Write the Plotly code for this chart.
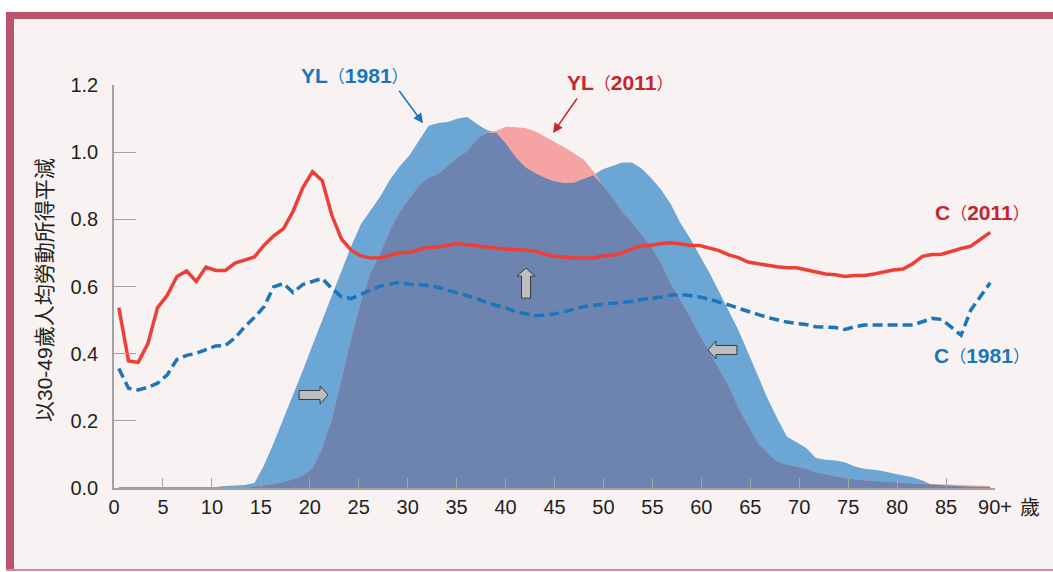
import plotly.graph_objects as go

# ---------------- data ----------------
ages = list(range(91))  # 0 .. 90+
tick_labels = ["0", "5", "10", "15", "20", "25", "30", "35", "40", "45",
               "50", "55", "60", "65", "70", "75", "80", "85", "90+"]
tick_nums = [0, 5, 10, 15, 20, 25, 30, 35, 40, 45, 50, 55, 60, 65, 70, 75, 80, 85, 90]
y_ticks = [0.0, 0.2, 0.4, 0.6, 0.8, 1.0, 1.2]

yl_1981 = [0.003] * 11 + [
    0.006, 0.007, 0.009, 0.015, 0.068, 0.135, 0.205, 0.277, 0.350, 0.425,
    0.500, 0.572, 0.647, 0.720, 0.785, 0.826, 0.868, 0.918, 0.957, 0.990,
    1.035, 1.079, 1.087, 1.090, 1.100, 1.105, 1.084, 1.066, 1.058, 1.025,
    0.985, 0.955, 0.937, 0.924, 0.913, 0.908, 0.909, 0.920, 0.931, 0.949,
    0.960, 0.969, 0.969, 0.951, 0.922, 0.889, 0.846, 0.789, 0.744, 0.694,
    0.641, 0.584, 0.527, 0.470, 0.403, 0.334, 0.267, 0.208, 0.153, 0.136,
    0.119, 0.089, 0.084, 0.082, 0.077, 0.064, 0.057, 0.054, 0.050, 0.043,
    0.037, 0.032, 0.022, 0.010, 0.007, 0.006, 0.005, 0.004, 0.003, 0.003]

yl_2011 = [0.0] * 14 + [
    0.004, 0.007, 0.012, 0.018, 0.026, 0.037, 0.058, 0.119, 0.203, 0.322,
    0.446, 0.554, 0.641, 0.698, 0.767, 0.822, 0.861, 0.901, 0.924, 0.936,
    0.960, 0.985, 1.003, 1.040, 1.057, 1.064, 1.076, 1.074, 1.072, 1.062,
    1.047, 1.030, 1.015, 0.997, 0.978, 0.944, 0.901, 0.864, 0.822, 0.792,
    0.753, 0.718, 0.670, 0.609, 0.559, 0.510, 0.455, 0.406, 0.352, 0.303,
    0.238, 0.188, 0.134, 0.104, 0.079, 0.069, 0.064, 0.057, 0.047, 0.040,
    0.035, 0.029, 0.025, 0.023, 0.021, 0.019, 0.017, 0.016, 0.015, 0.013,
    0.012, 0.011, 0.010, 0.009, 0.008, 0.007, 0.006]

c_2011 = [
    0.537, 0.378, 0.374, 0.430, 0.537, 0.574, 0.630, 0.646, 0.615, 0.658,
    0.648, 0.648, 0.670, 0.678, 0.688, 0.723, 0.751, 0.772, 0.824, 0.894,
    0.942, 0.916, 0.812, 0.741, 0.708, 0.691, 0.685, 0.685, 0.693, 0.701,
    0.701, 0.710, 0.716, 0.718, 0.723, 0.728, 0.724, 0.721, 0.716, 0.715,
    0.711, 0.710, 0.709, 0.706, 0.696, 0.690, 0.688, 0.685, 0.685, 0.685,
    0.691, 0.694, 0.700, 0.713, 0.721, 0.723, 0.728, 0.730, 0.727, 0.722,
    0.722, 0.715, 0.707, 0.694, 0.686, 0.673, 0.667, 0.663, 0.659, 0.656,
    0.656, 0.649, 0.642, 0.637, 0.635, 0.630, 0.633, 0.633, 0.637, 0.643,
    0.649, 0.652, 0.668, 0.690, 0.695, 0.696, 0.705, 0.713, 0.720, 0.741,
    0.761]

c_1981 = [
    0.356, 0.297, 0.292, 0.300, 0.312, 0.337, 0.383, 0.395, 0.401, 0.411,
    0.423, 0.424, 0.447, 0.480, 0.508, 0.540, 0.599, 0.609, 0.582, 0.606,
    0.616, 0.624, 0.594, 0.569, 0.564, 0.576, 0.589, 0.601, 0.607, 0.612,
    0.607, 0.605, 0.603, 0.597, 0.589, 0.581, 0.572, 0.564, 0.552, 0.545,
    0.536, 0.525, 0.518, 0.513, 0.515, 0.518, 0.525, 0.532, 0.540, 0.544,
    0.547, 0.548, 0.551, 0.556, 0.561, 0.564, 0.569, 0.574, 0.576, 0.573,
    0.569, 0.562, 0.554, 0.545, 0.535, 0.525, 0.517, 0.508, 0.501, 0.494,
    0.490, 0.487, 0.480, 0.479, 0.478, 0.472, 0.480, 0.485, 0.485, 0.485,
    0.485, 0.487, 0.485, 0.495, 0.505, 0.502, 0.480, 0.455, 0.530, 0.569,
    0.611]

overlap = [min(a, b) for a, b in zip(yl_1981, yl_2011)]

# ---------------- layout geometry ----------------
W, H = 1053, 572
ML, MR, MT, MB = 114, 58, 85, 84
PW, PH = W - ML - MR, H - MT - MB


def PX(p):
    return (p - ML) / PW


def PY(q):
    return (H - MB - q) / PH


n_cat = len(ages)
x_range = [-0.5, n_cat - 0.5]
tickvals = [x_range[0] + v * n_cat / 90 for v in tick_nums]

BLUE_FILL = "#6CA6D4"
PINK_FILL = "#F5A4A3"
SLATE_FILL = "#6E84B0"
RED_LINE = "#EE3F36"
BLUE_LINE = "#1B75BC"
RED_TEXT = "#C1272D"
BLUE_TEXT = "#1B75BC"
FRAME = "#B9546B"
INNER_BG = "#F8F2F2"
TXT = "#231F20"
AXIS = "#A3A3A3"

fig = go.Figure()
fig.add_trace(go.Scatter(x=ages, y=yl_1981, mode="lines", fill="tozeroy",
                         fillcolor=BLUE_FILL, line=dict(width=0, color=BLUE_FILL),
                         hoverinfo="skip"))
fig.add_trace(go.Scatter(x=ages, y=yl_2011, mode="lines", fill="tozeroy",
                         fillcolor=PINK_FILL, line=dict(width=0, color=PINK_FILL),
                         hoverinfo="skip"))
fig.add_trace(go.Scatter(x=ages, y=overlap, mode="lines", fill="tozeroy",
                         fillcolor=SLATE_FILL, line=dict(width=0, color=SLATE_FILL),
                         hoverinfo="skip"))
fig.add_trace(go.Scatter(x=ages, y=c_2011, mode="lines",
                         line=dict(width=3.5, color=RED_LINE)))
fig.add_trace(go.Scatter(x=ages, y=c_1981, mode="lines",
                         line=dict(width=3.5, color=BLUE_LINE, dash="10px,5px")))

shapes = [
    dict(type="rect", xref="paper", yref="paper", x0=PX(6), x1=PX(1070),
         y0=PY(571), y1=PY(12), fillcolor=INNER_BG, line=dict(width=0), layer="below"),
    dict(type="rect", xref="paper", yref="paper", x0=PX(6), x1=PX(14),
         y0=PY(571), y1=PY(12), fillcolor=FRAME, line=dict(width=0), layer="below"),
    dict(type="rect", xref="paper", yref="paper", x0=PX(6), x1=PX(1070),
         y0=PY(19), y1=PY(12), fillcolor=FRAME, line=dict(width=0), layer="below"),
    dict(type="rect", xref="paper", yref="paper", x0=PX(6), x1=PX(1070),
         y0=PY(571), y1=PY(569), fillcolor="#D58B9B", line=dict(width=0), layer="below"),
]

arrow_style = dict(type="path", xref="x", yref="y", xsizemode="pixel", ysizemode="pixel",
                   fillcolor="#BDBEC1", line=dict(color="#3A3A3A", width=1), layer="above")
right_arrow = "M -14,-4.5 L 7,-4.5 L 7,-9 L 15,0 L 7,9 L 7,4.5 L -14,4.5 Z"
left_arrow = "M 14,-4.5 L -7,-4.5 L -7,-9 L -15,0 L -7,9 L -7,4.5 L 14,4.5 Z"
up_arrow = "M -4.5,-15 L 4.5,-15 L 4.5,7 L 9,7 L 0,15 L -9,7 L -4.5,7 Z"
shapes.append(dict(arrow_style, xanchor=20.06, yanchor=0.277, path=right_arrow))
shapes.append(dict(arrow_style, xanchor=42.06, yanchor=0.61, path=up_arrow))
shapes.append(dict(arrow_style, xanchor=62.4, yanchor=0.411, path=left_arrow))

lab_font = "Liberation Sans, Arial, Noto Sans CJK TC"
P_OPEN = "<span style='font-family:Noto Sans CJK TC;font-weight:normal;font-size:17px'>（</span>"
P_CLOSE = "<span style='font-family:Noto Sans CJK TC;font-weight:normal;font-size:17px'>）</span>"


def series_label(name, year):
    return f"<b>{name}</b>{P_OPEN}<b>{year}</b>{P_CLOSE}"


def label(text, x, y, color):
    return dict(text=text, xref="paper", yref="paper", x=PX(x), y=PY(y),
                xanchor="center", yanchor="middle", showarrow=False,
                font=dict(size=21, color=color, family=lab_font))


annotations = [
    label(series_label("YL", "1981"), 355, 75, BLUE_TEXT),
    label(series_label("YL", "2011"), 620, 82, RED_TEXT),
    label(series_label("C", "2011"), 982, 212, RED_TEXT),
    label(series_label("C", "1981"), 982, 355, BLUE_TEXT),
    dict(text="", x=31.42, y=1.086, xref="x", yref="y", showarrow=True,
         ax=-25, ay=-34, arrowhead=2, arrowsize=1.3, arrowwidth=1.5, arrowcolor=BLUE_TEXT),
    dict(text="", x=44.85, y=1.057, xref="x", yref="y", showarrow=True,
         ax=25, ay=-36, arrowhead=2, arrowsize=1.3, arrowwidth=1.5, arrowcolor=RED_TEXT),
    dict(text="以30-49歲人均勞動所得平減", xref="paper", yref="paper", x=PX(44), y=PY(290),
         xanchor="center", yanchor="middle", textangle=-90, showarrow=False,
         font=dict(size=21, color=TXT, family="Liberation Sans, Noto Sans CJK TC")),
    dict(text="歲", xref="paper", yref="paper", x=PX(1030), y=PY(507),
         xanchor="center", yanchor="middle",
         showarrow=False, font=dict(size=20, color=TXT, family="Noto Sans CJK TC")),
]

fig.update_layout(
    width=W, height=H,
    margin=dict(l=ML, r=MR, t=MT, b=MB),
    paper_bgcolor="white",
    plot_bgcolor="rgba(0,0,0,0)",
    showlegend=False,
    shapes=shapes,
    annotations=annotations,
    font=dict(family="Liberation Sans, Arial", size=20, color=TXT),
    xaxis=dict(range=x_range, tickvals=tickvals, ticktext=tick_labels,
               showgrid=False, zeroline=False, showline=True, linecolor=AXIS, linewidth=1.5,
               ticks="inside", ticklen=10, tickcolor=AXIS, tickwidth=1.2,
               tickfont=dict(size=20, color=TXT), fixedrange=True),
    yaxis=dict(range=[0, 1.2], tickvals=y_ticks, tickformat=".1f",
               showgrid=False, zeroline=False, showline=True, linecolor=AXIS, linewidth=1.5,
               ticks="inside", ticklen=22, tickcolor=AXIS, tickwidth=1.2,
               ticklabelstandoff=10,
               tickfont=dict(size=20, color=TXT), fixedrange=True),
)

fig.write_html("out.html", config={"displayModeBar": False},
               post_script="document.body.style.margin='0px';")
